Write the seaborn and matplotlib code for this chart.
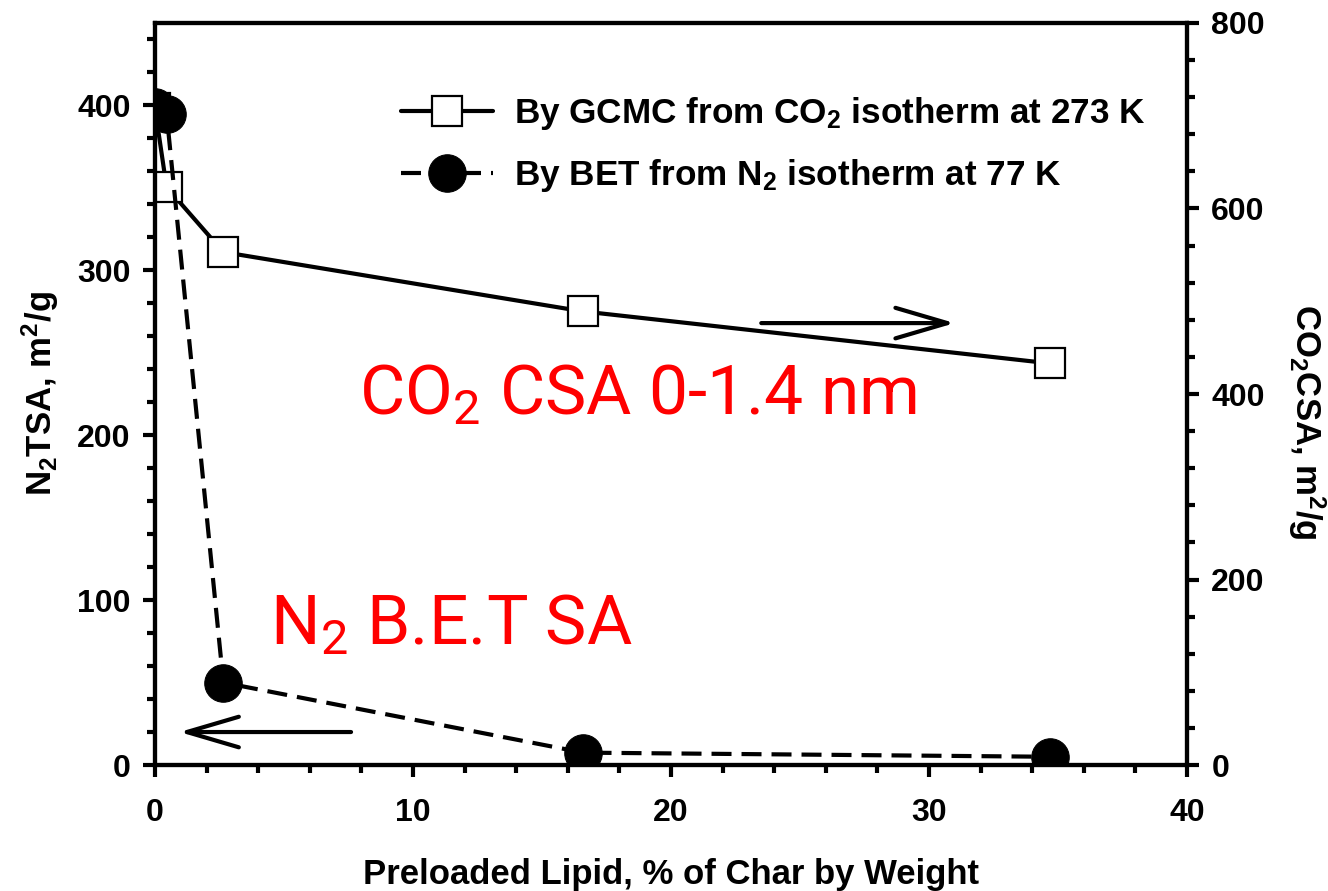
import matplotlib
matplotlib.use("Agg")
import matplotlib.pyplot as plt
from matplotlib.ticker import MultipleLocator
import seaborn as sns
import pandas as pd

# Surface area vs. preloaded lipid content
lipid_gcmc = [0.0, 0.45, 2.65, 16.6, 34.7]
co2_csa = [708, 623, 553, 489, 433]          # m2/g, right axis

lipid_bet = [0.0, 0.45, 2.65, 16.6, 34.7]
n2_tsa = [399, 395, 50, 7.5, 5]              # m2/g, left axis

label_gcmc = "By GCMC from CO$_2$ isotherm at 273 K"
label_bet = "By BET from N$_2$ isotherm at 77 K"

sns.set_style("ticks")
plt.rcParams["font.family"] = ["Liberation Sans", "DejaVu Sans"]
plt.rcParams["font.weight"] = "bold"
plt.rcParams["mathtext.default"] = "regular"
for key in ("text.color", "axes.labelcolor", "xtick.color", "ytick.color",
            "axes.edgecolor"):
    plt.rcParams[key] = "black"

df_gcmc = pd.DataFrame({"x": lipid_gcmc, "y": co2_csa})
df_bet = pd.DataFrame({"x": lipid_bet, "y": n2_tsa})

fig = plt.figure(figsize=(13.28, 8.91), dpi=100)
ax = fig.add_axes([0.1167, 0.1414, 0.7771, 0.8328])
ax2 = ax.twinx()

sns.lineplot(data=df_gcmc, x="x", y="y", ax=ax2, color="black", lw=3,
             marker="s", markersize=21, markerfacecolor="white",
             markeredgecolor="black", markeredgewidth=1.6, label=label_gcmc,
             legend=False)
sns.lineplot(data=df_bet, x="x", y="y", ax=ax, color="black", lw=3,
             marker="o", markersize=27, markerfacecolor="black",
             markeredgecolor="black", label=label_bet, legend=False)
ax.lines[0].set_dashes((4.8, 2.4))

# circles over squares
ax.set_zorder(ax2.get_zorder() + 1)
ax.patch.set_visible(False)

ax.set_xlim(0, 40)
ax.set_ylim(0, 450)
ax2.set_ylim(0, 800)

ax.xaxis.set_major_locator(MultipleLocator(10))
ax.xaxis.set_minor_locator(MultipleLocator(2))
ax.yaxis.set_major_locator(MultipleLocator(100))
ax.yaxis.set_minor_locator(MultipleLocator(20))
ax2.yaxis.set_major_locator(MultipleLocator(200))
ax2.yaxis.set_minor_locator(MultipleLocator(40))
ax.set_yticks([0, 100, 200, 300, 400])

for a in (ax, ax2):
    for s in a.spines.values():
        s.set_linewidth(3)
        s.set_color("black")
    a.tick_params(which="major", length=8.5, width=3, labelsize=23,
                  direction="out", pad=9)
    a.tick_params(which="minor", length=5.5, width=3, direction="out")
ax.tick_params(axis="x", which="both", top=False, pad=15)
ax.tick_params(axis="y", which="both", right=False)
ax2.tick_params(axis="y", which="both", left=False)

ax.set_xlabel("Preloaded Lipid, % of Char by Weight", fontsize=25,
              fontweight="bold", labelpad=22)
ax.set_ylabel("N$_2$TSA, m$^2$/g", fontsize=25, fontweight="bold",
              labelpad=12)
ax2.set_ylabel("CO$_2$CSA, m$^2$/g", fontsize=25, fontweight="bold",
               rotation=270, va="bottom")
ax2.yaxis.set_label_coords(1.096, 0.462)

# direction arrows pointing to each axis
arrow = dict(arrowstyle="->,head_length=1.7,head_width=0.5",
             lw=3, color="black", mutation_scale=22, shrinkA=0, shrinkB=0)
ax.annotate("", xy=(31.0, 268), xytext=(23.5, 268), arrowprops=arrow)
ax.annotate("", xy=(0.95, 20), xytext=(7.6, 20), arrowprops=arrow)

red_font = dict(color="red", fontsize=50, fontweight="normal",
                family=["Roboto", "DejaVu Sans"])
ax.text(7.9, 213, "CO$_2$ CSA 0-1.4 nm", ha="left", va="baseline",
        **red_font)
ax.text(4.45, 73, "N$_2$ B.E.T SA", ha="left", va="baseline", **red_font)

h1, l1 = ax2.get_legend_handles_labels()
h2, l2 = ax.get_legend_handles_labels()
leg = ax.legend(h1 + h2, l1 + l2, loc="upper left",
                bbox_to_anchor=(0.208, 0.945), frameon=False,
                handlelength=2.6, handletextpad=0.62, labelspacing=0.7,
                prop={"weight": "bold", "size": 25.3})

fig.savefig("out.png", dpi=100)
